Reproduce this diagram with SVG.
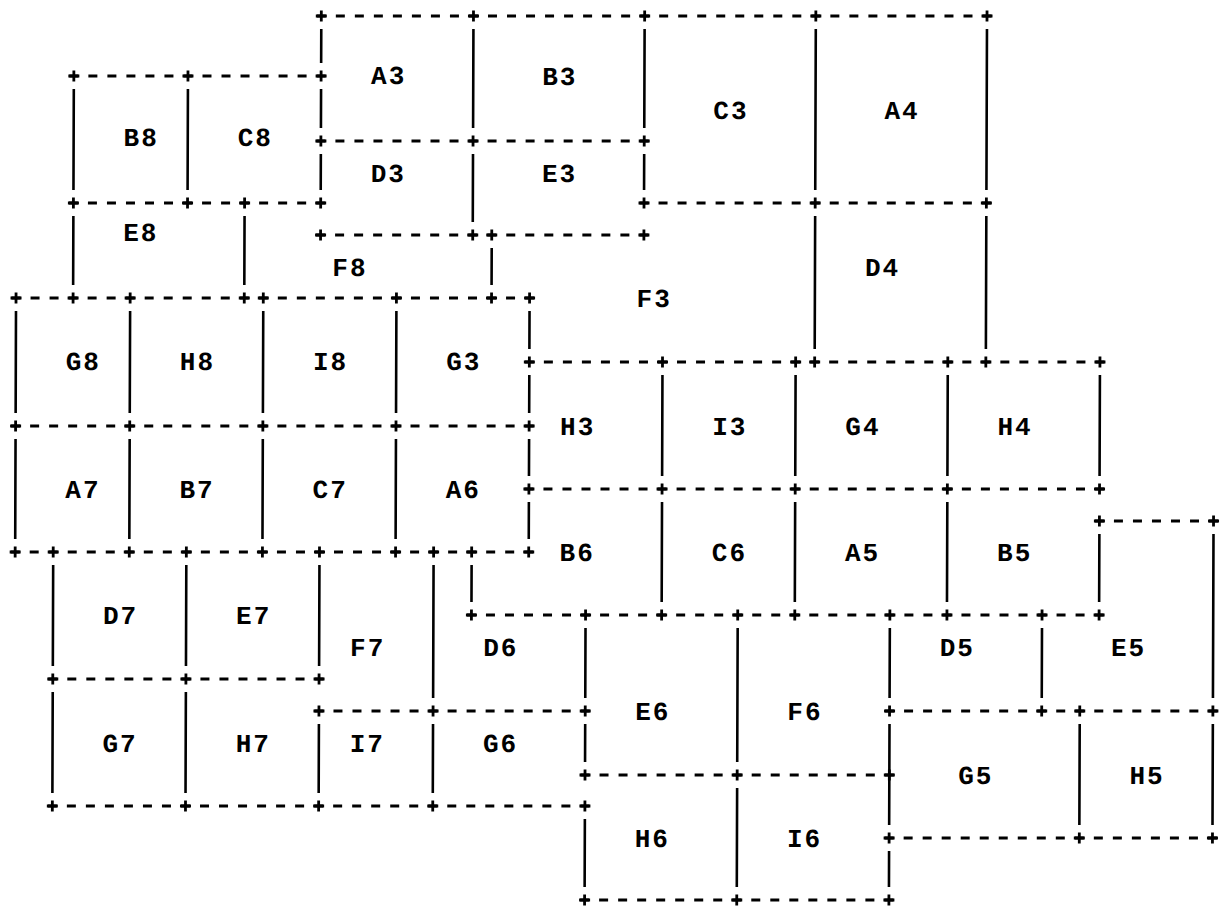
<svg xmlns="http://www.w3.org/2000/svg" xmlns:xlink="http://www.w3.org/1999/xlink" width="1229" height="910" viewBox="0 0 1229 910">
<defs>
<style>
.d{stroke:#000;stroke-width:3;stroke-dasharray:9 10.02;fill:none}
.v{stroke:#000;stroke-width:2.6;fill:none}
.p{stroke:#000;stroke-width:2.8;fill:none}
text{font-family:"Liberation Mono","DejaVu Sans Mono",monospace;font-weight:bold;font-size:26px;letter-spacing:2px;fill:#000;text-anchor:middle}
</style>
<path id="p" class="p" d="M-5.5 0H5.5M0 -5.5V5.5"/>
</defs>
<rect width="1229" height="910" fill="#fff"/>
<g transform="matrix(1 0 -0.0034 1 3.05 0)">
<g id="connectors">
<g id="dashed-lines">
<line class="d" x1="313.82" y1="16" x2="988.52" y2="16"/>
<line class="d" x1="66.56" y1="76" x2="322.82" y2="76"/>
<line class="d" x1="313.82" y1="141" x2="646.16" y2="141"/>
<line class="d" x1="66.56" y1="203" x2="322.82" y2="203"/>
<line class="d" x1="637.16" y1="203" x2="988.52" y2="203"/>
<line class="d" x1="313.82" y1="235" x2="646.16" y2="235"/>
<line class="d" x1="9.5" y1="298" x2="532.04" y2="298"/>
<line class="d" x1="523.04" y1="362" x2="1102.64" y2="362"/>
<line class="d" x1="9.5" y1="426" x2="532.04" y2="426"/>
<line class="d" x1="523.04" y1="489" x2="1102.64" y2="489"/>
<line class="d" x1="1093.64" y1="521" x2="1216.76" y2="521"/>
<line class="d" x1="9.5" y1="552" x2="532.04" y2="552"/>
<line class="d" x1="465.98" y1="615" x2="1102.64" y2="615"/>
<line class="d" x1="47.54" y1="679" x2="322.82" y2="679"/>
<line class="d" x1="313.82" y1="711" x2="589.10" y2="711"/>
<line class="d" x1="884.42" y1="711" x2="1216.76" y2="711"/>
<line class="d" x1="580.10" y1="775" x2="893.42" y2="775"/>
<line class="d" x1="47.54" y1="806" x2="589.10" y2="806"/>
<line class="d" x1="884.42" y1="838" x2="1216.76" y2="838"/>
<line class="d" x1="580.10" y1="900" x2="893.42" y2="900"/>
</g>
<g id="solid-lines">
<path class="v" d="M318.32 29V63M318.32 89V128M318.32 154V190
M470.48 29V128M470.48 154V222
M641.66 29V128M641.66 154V190
M812.84 29V190M812.84 216V349
M984.02 29V190M984.02 216V349
M71.06 89V190M71.06 216V285
M185.18 89V190
M242.24 216V285
M489.50 248V285
M527.54 311V349M527.54 375V413M527.54 439V476M527.54 502V539
M14 311V413M14 439V539
M128.12 311V413M128.12 439V539
M261.26 311V413M261.26 439V539
M394.40 311V413M394.40 439V539
M660.68 375V476M660.68 502V602
M793.82 375V476M793.82 502V602
M945.98 375V476M945.98 502V602
M1098.14 375V476M1098.14 534V602
M1212.26 534V698M1212.26 724V825
M470.48 565V602
M52.04 565V666M52.04 692V793
M185.18 565V666M185.18 692V793
M318.32 565V666M318.32 724V793
M432.44 565V698M432.44 724V793
M584.60 628V698M584.60 724V762M584.60 819V887
M736.76 628V762M736.76 788V887
M888.92 628V698M888.92 724V825M888.92 851V887
M1041.08 628V698
M1079.12 724V825"/>
</g>
<g id="junctions">
<use href="#p" x="318.32" y="16"/><use href="#p" x="470.48" y="16"/><use href="#p" x="641.66" y="16"/><use href="#p" x="812.84" y="16"/><use href="#p" x="984.02" y="16"/>
<use href="#p" x="71.06" y="76"/><use href="#p" x="185.18" y="76"/><use href="#p" x="318.32" y="76"/>
<use href="#p" x="318.32" y="141"/><use href="#p" x="470.48" y="141"/><use href="#p" x="641.66" y="141"/>
<use href="#p" x="71.06" y="203"/><use href="#p" x="185.18" y="203"/><use href="#p" x="242.24" y="203"/><use href="#p" x="318.32" y="203"/>
<use href="#p" x="641.66" y="203"/><use href="#p" x="812.84" y="203"/><use href="#p" x="984.02" y="203"/>
<use href="#p" x="318.32" y="235"/><use href="#p" x="470.48" y="235"/><use href="#p" x="489.50" y="235"/><use href="#p" x="641.66" y="235"/>
<use href="#p" x="14" y="298"/><use href="#p" x="71.06" y="298"/><use href="#p" x="128.12" y="298"/><use href="#p" x="242.24" y="298"/><use href="#p" x="261.26" y="298"/><use href="#p" x="394.40" y="298"/><use href="#p" x="489.50" y="298"/><use href="#p" x="527.54" y="298"/>
<use href="#p" x="527.54" y="362"/><use href="#p" x="660.68" y="362"/><use href="#p" x="793.82" y="362"/><use href="#p" x="812.84" y="362"/><use href="#p" x="945.98" y="362"/><use href="#p" x="984.02" y="362"/><use href="#p" x="1098.14" y="362"/>
<use href="#p" x="14" y="426"/><use href="#p" x="128.12" y="426"/><use href="#p" x="261.26" y="426"/><use href="#p" x="394.40" y="426"/><use href="#p" x="527.54" y="426"/>
<use href="#p" x="527.54" y="489"/><use href="#p" x="660.68" y="489"/><use href="#p" x="793.82" y="489"/><use href="#p" x="945.98" y="489"/><use href="#p" x="1098.14" y="489"/>
<use href="#p" x="1098.14" y="521"/><use href="#p" x="1212.26" y="521"/>
<use href="#p" x="14" y="552"/><use href="#p" x="52.04" y="552"/><use href="#p" x="128.12" y="552"/><use href="#p" x="185.18" y="552"/><use href="#p" x="261.26" y="552"/><use href="#p" x="318.32" y="552"/><use href="#p" x="394.40" y="552"/><use href="#p" x="432.44" y="552"/><use href="#p" x="470.48" y="552"/><use href="#p" x="527.54" y="552"/>
<use href="#p" x="470.48" y="615"/><use href="#p" x="584.60" y="615"/><use href="#p" x="660.68" y="615"/><use href="#p" x="736.76" y="615"/><use href="#p" x="793.82" y="615"/><use href="#p" x="888.92" y="615"/><use href="#p" x="945.98" y="615"/><use href="#p" x="1041.08" y="615"/><use href="#p" x="1098.14" y="615"/>
<use href="#p" x="52.04" y="679"/><use href="#p" x="185.18" y="679"/><use href="#p" x="318.32" y="679"/>
<use href="#p" x="318.32" y="711"/><use href="#p" x="432.44" y="711"/><use href="#p" x="584.60" y="711"/>
<use href="#p" x="888.92" y="711"/><use href="#p" x="1041.08" y="711"/><use href="#p" x="1079.12" y="711"/><use href="#p" x="1212.26" y="711"/>
<use href="#p" x="584.60" y="775"/><use href="#p" x="736.76" y="775"/><use href="#p" x="888.92" y="775"/>
<use href="#p" x="52.04" y="806"/><use href="#p" x="185.18" y="806"/><use href="#p" x="318.32" y="806"/><use href="#p" x="432.44" y="806"/><use href="#p" x="584.60" y="806"/>
<use href="#p" x="888.92" y="838"/><use href="#p" x="1079.12" y="838"/><use href="#p" x="1212.26" y="838"/>
<use href="#p" x="584.60" y="900"/><use href="#p" x="736.76" y="900"/><use href="#p" x="888.92" y="900"/>
</g>
</g>
<g id="cells" transform="translate(1,0)">
<g id="A3"><text x="384.89" y="84">A3</text></g>
<g id="B3"><text x="556.07" y="85">B3</text></g>
<g id="C3"><text x="727.25" y="119">C3</text></g>
<g id="A4"><text x="898.43" y="119">A4</text></g>
<g id="B8"><text x="137.63" y="146">B8</text></g>
<g id="C8"><text x="251.75" y="146">C8</text></g>
<g id="D3"><text x="384.89" y="182">D3</text></g>
<g id="E3"><text x="556.07" y="182">E3</text></g>
<g id="E8"><text x="137.63" y="241">E8</text></g>
<g id="F8"><text x="346.85" y="276">F8</text></g>
<g id="D4"><text x="879.41" y="276">D4</text></g>
<g id="F3"><text x="651.17" y="307">F3</text></g>
<g id="G8"><text x="80.57" y="370">G8</text></g>
<g id="H8"><text x="194.69" y="370">H8</text></g>
<g id="I8"><text x="327.83" y="370">I8</text></g>
<g id="G3"><text x="460.97" y="370">G3</text></g>
<g id="H3"><text x="575.09" y="435">H3</text></g>
<g id="I3"><text x="727.25" y="435">I3</text></g>
<g id="G4"><text x="860.39" y="435">G4</text></g>
<g id="H4"><text x="1012.55" y="435">H4</text></g>
<g id="A7"><text x="80.57" y="498">A7</text></g>
<g id="B7"><text x="194.69" y="498">B7</text></g>
<g id="C7"><text x="327.83" y="498">C7</text></g>
<g id="A6"><text x="460.97" y="498">A6</text></g>
<g id="B6"><text x="575.09" y="561">B6</text></g>
<g id="C6"><text x="727.25" y="561">C6</text></g>
<g id="A5"><text x="860.39" y="561">A5</text></g>
<g id="B5"><text x="1012.55" y="561">B5</text></g>
<g id="D7"><text x="118.61" y="624">D7</text></g>
<g id="E7"><text x="251.75" y="624">E7</text></g>
<g id="F7"><text x="365.87" y="656">F7</text></g>
<g id="D6"><text x="499.01" y="656">D6</text></g>
<g id="D5"><text x="955.49" y="656">D5</text></g>
<g id="E5"><text x="1126.67" y="656">E5</text></g>
<g id="E6"><text x="651.17" y="720">E6</text></g>
<g id="F6"><text x="803.33" y="720">F6</text></g>
<g id="G7"><text x="118.61" y="752">G7</text></g>
<g id="H7"><text x="251.75" y="752">H7</text></g>
<g id="I7"><text x="365.87" y="752">I7</text></g>
<g id="G6"><text x="499.01" y="752">G6</text></g>
<g id="G5"><text x="974.51" y="784">G5</text></g>
<g id="H5"><text x="1145.69" y="784">H5</text></g>
<g id="H6"><text x="651.17" y="847">H6</text></g>
<g id="I6"><text x="803.33" y="847">I6</text></g>
</g>
</g>
</svg>
